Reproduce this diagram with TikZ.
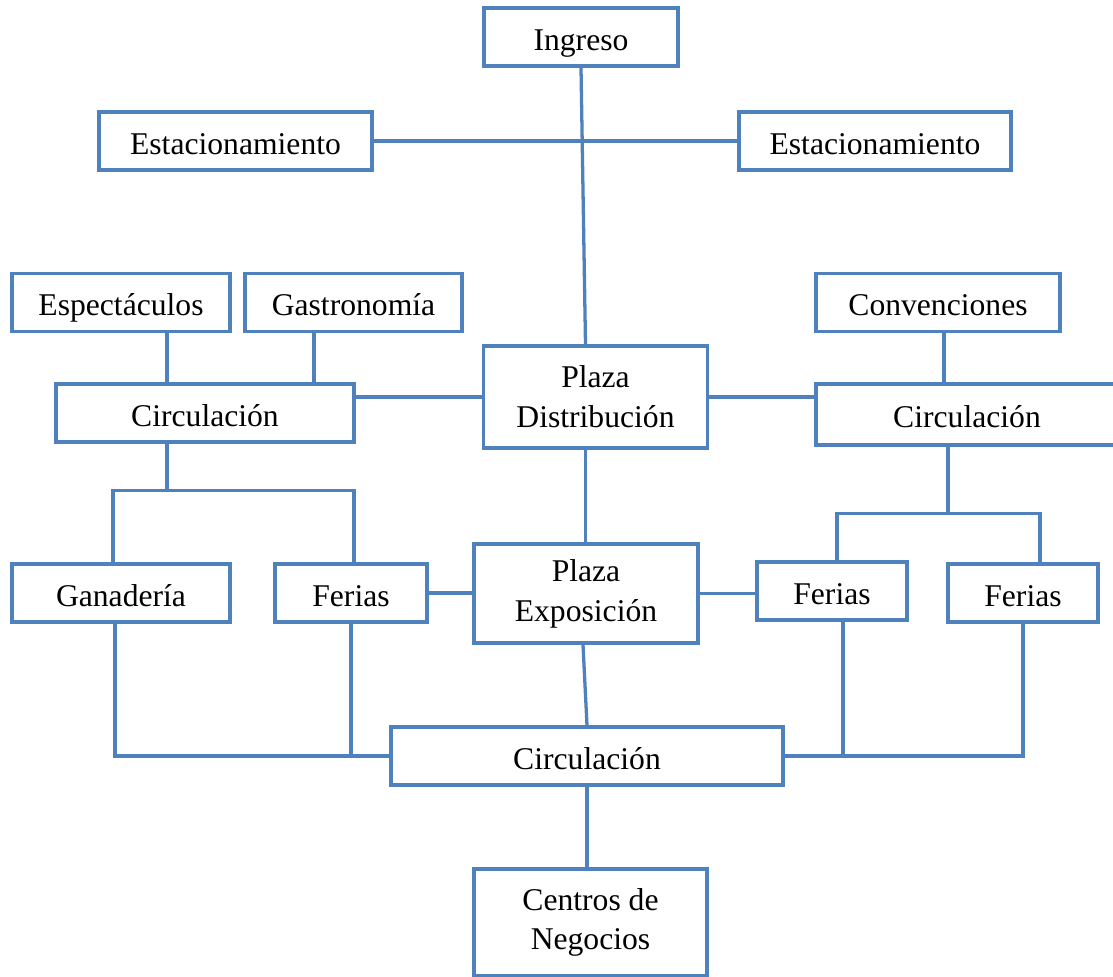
\documentclass[tikz,border=0pt]{standalone}
\usepackage{xcolor}
\usepackage{fontspec}
\setmainfont{Liberation Serif}
\usepackage{tikz}
\usetikzlibrary{positioning, calc}
\definecolor{azul}{RGB}{79,129,189}

\begin{document}
\begin{tikzpicture}[x=0.03cm, y=-0.03cm,
        bloque/.style={draw=azul, line width=2.8pt, fill=white, inner sep=0pt, align=center, font=\fontsize{27}{34}\selectfont, minimum height=1.74cm},
        uno/.style={bloque, text height=29pt, text depth=6pt},
        enlace/.style={draw=azul, line width=2.8pt}]
        \useasboundingbox (0,0) rectangle (1113,977);

        % Draw blocks
        \node[uno, minimum width=5.82cm] (ingreso) at (581,37) {Ingreso};
        \node[uno, minimum width=8.19cm] (estL) at (235.5,141) {Estacionamiento};
        \node[uno, minimum width=8.16cm] (estR) at (875,141) {Estacionamiento};
        \node[uno, minimum width=6.54cm] (espect) at (121,302.5) {Espectáculos};
        \node[uno, minimum width=6.51cm] (gastro) at (353.5,302.5) {Gastronomía};
        \node[uno, minimum width=7.32cm] (conv) at (938,302.5) {Convenciones};
        \node[bloque, minimum width=6.72cm, minimum height=3.06cm] (plazaD) at (595.5,397) {Plaza\\Distribución};
        \node[uno, minimum width=8.94cm] (circL) at (205,413) {Circulación};
        \node[uno, minimum width=9.06cm, minimum height=1.83cm] (circR) at (967,414.5) {Circulación};
        \node[uno, minimum width=6.54cm] (ganad) at (121,593) {Ganadería};
        \node[uno, minimum width=4.56cm] (feriasL) at (351,593) {Ferias};
        \node[bloque, minimum width=6.72cm, minimum height=2.97cm] (plazaE) at (586,593.5) {Plaza\\Exposición};
        \node[uno, minimum width=4.5cm] (feriasM) at (832,591) {Ferias};
        \node[uno, minimum width=4.5cm] (feriasR) at (1023,593) {Ferias};
        \node[uno, minimum width=11.76cm] (circB) at (587,756) {Circulación};
        \node[bloque, minimum width=6.99cm, minimum height=3.21cm] (centros) at (590.5,922.5) {Centros de\\Negocios};

        % Upper links
        \draw[enlace] (ingreso.south) -- ($(plazaD.north)+(-10,0)$);
        \draw[enlace] (estL.east) -- (estR.west);
        \coordinate (espB) at ($(espect.south)+(46,0)$);
        \draw[enlace] (espB) -- (espB |- circL.north);
        \coordinate (gasB) at ($(gastro.south)+(-39.5,0)$);
        \draw[enlace] (gasB) -- (gasB |- circL.north);
        \coordinate (conB) at ($(conv.south)+(6,0)$);
        \draw[enlace] (conB) -- (conB |- circR.north);
        \draw[enlace] (plazaD.west) -- (plazaD.west -| circL.east);
        \draw[enlace] (plazaD.east) -- (plazaD.east -| circR.west);

        % Left branch
        \coordinate (cLB) at ($(circL.south)+(-38,0)$);
        \coordinate (jL) at ($(cLB)+(0,47)$);
        \draw[enlace] (cLB) -- (jL);
        \draw[enlace] ($(ganad.north)+(-8,0)$) |- (jL) -| ($(feriasL.north)+(3,0)$);

        % Right branch
        \coordinate (cRB) at ($(circR.south)+(-19,0)$);
        \coordinate (jR) at ($(cRB)+(0,67)$);
        \draw[enlace] (cRB) -- (jR);
        \draw[enlace] ($(feriasM.north)+(5,0)$) |- (jR) -| ($(feriasR.north)+(17,0)$);

        % Central axis
        \coordinate (pDB) at ($(plazaD.south)+(-10,0)$);
        \draw[enlace] (pDB) -- (pDB |- plazaE.north);
        \draw[enlace] (feriasL.east) -- (feriasL.east -| plazaE.west);
        \draw[enlace] (plazaE.east) -- (plazaE.east -| feriasM.west);
        \draw[enlace] ($(plazaE.south)+(-3,0)$) -- (circB.north);
        \draw[enlace] (circB.south) -- (circB.south |- centros.north);

        % Lower links
        \draw[enlace] ($(ganad.south)+(-6,0)$) |- (circB.west);
        \draw[enlace] (feriasL.south) -- (feriasL.south |- circB.west);
        \draw[enlace] (feriasR.south) |- (circB.east);
        \coordinate (fMB) at ($(feriasM.south)+(11,0)$);
        \draw[enlace] (fMB) -- (fMB |- circB.east);
    \end{tikzpicture}
\end{document}
